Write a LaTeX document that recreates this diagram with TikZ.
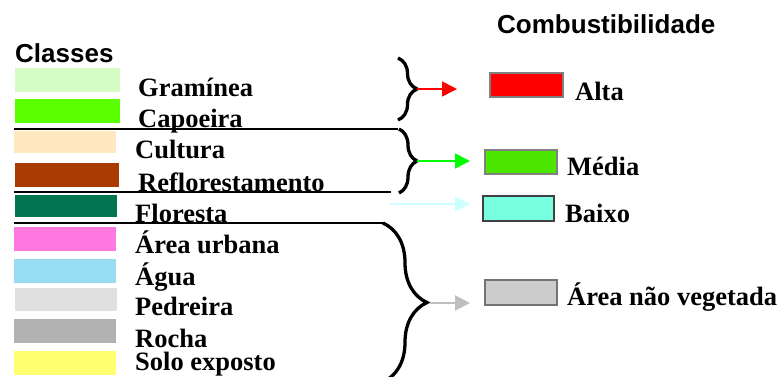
\documentclass[tikz,border=0pt]{standalone}
\usepackage{fontspec}
\setmainfont{Liberation Serif}
\newfontfamily\headfont{Liberation Sans}
\usetikzlibrary{arrows.meta,decorations.pathreplacing}
\definecolor{cGram}{HTML}{D4FCC4}
\definecolor{cCapo}{HTML}{5AFF00}
\definecolor{cCult}{HTML}{FFE8C0}
\definecolor{cRefl}{HTML}{A83C00}
\definecolor{cFlor}{HTML}{007550}
\definecolor{cUrb}{HTML}{FF78E0}
\definecolor{cAgua}{HTML}{98DCF2}
\definecolor{cPedr}{HTML}{E0E0E0}
\definecolor{cRoch}{HTML}{B2B2B2}
\definecolor{cSolo}{HTML}{FFFF70}
\definecolor{cMedia}{HTML}{4CE600}
\definecolor{cBaixo}{HTML}{78FFE0}
\definecolor{cNaoVeg}{HTML}{CCCCCC}
\definecolor{cCyan}{HTML}{CCFFFF}
\tikzset{
    swatch/.style={anchor=north west,inner sep=0,outer sep=0,minimum height=24pt},
    lbl/.style={anchor=base west,inner sep=0,font=\fontsize{26.5}{30}\selectfont\bfseries},
    ttl/.style={anchor=base west,inner sep=0,font=\headfont\fontsize{26}{30}\selectfont\bfseries},
    fuelbox/.style={anchor=north west,inner sep=0,line width=1.5pt,minimum width=73pt,minimum height=24pt},
    curly/.style={decorate,decoration={brace,amplitude=#1},line width=3.3pt},
    flow/.style={line width=1.6pt,-{Triangle[length=15pt,width=15pt]}}
}
\begin{document}
\begin{tikzpicture}[x=1pt,y=-1pt]
    \useasboundingbox (0,0) rectangle (781,376);
    \clip (0,0) rectangle (781,376);
    %% Titles
    \node[ttl] (classes) at (15,62) {Classes};
    \node[ttl] (combust) at (497,33) {Combustibilidade};
    %% Class swatches
    \node[swatch,fill=cGram,minimum width=105pt] (sGram) at (15,68) {};
    \node[swatch,fill=cCapo,minimum width=105pt] (sCapo) at (15,99) {};
    \node[swatch,fill=cCult,minimum width=102pt,minimum height=22pt] (sCult) at (14,131) {};
    \node[swatch,fill=cRefl,minimum width=104pt] (sRefl) at (15,163) {};
    \node[swatch,fill=cFlor,minimum width=102pt,minimum height=22pt] (sFlor) at (15,195) {};
    \node[swatch,fill=cUrb,minimum width=102pt] (sUrb) at (14,227) {};
    \node[swatch,fill=cAgua,minimum width=102pt] (sAgua) at (14,259) {};
    \node[swatch,fill=cPedr,minimum width=102pt,minimum height=23pt] (sPedr) at (15,288) {};
    \node[swatch,fill=cRoch,minimum width=102pt] (sRoch) at (14,319) {};
    \node[swatch,fill=cSolo,minimum width=102pt] (sSolo) at (14,351) {};
    %% Class names
    \node[lbl] (lGram) at (138,96) {Gramínea};
    \node[lbl] (lCapo) at (138,127) {Capoeira};
    \node[lbl] (lCult) at (135,158) {Cultura};
    \node[lbl] (lRefl) at (138,191) {Reflorestamento};
    \node[lbl] (lFlor) at (135,222) {Floresta};
    \node[lbl] (lUrb) at (135,253) {Área urbana};
    \node[lbl] (lAgua) at (135,285) {Água};
    \node[lbl] (lPedr) at (135,315) {Pedreira};
    \node[lbl] (lRoch) at (135,347) {Rocha};
    \node[lbl] (lSolo) at (135,370) {Solo exposto};
    %% Group dividers
    \draw[line width=1.5pt] (14,129) -- (398,129);
    \draw[line width=1.5pt] (14,192) -- (391,192);
    \draw[line width=1.5pt] (14,223) -- (384,223);
    %% Braces
    \draw[curly=19pt] (398,58) -- (398,120);
    \draw[curly=18pt] (399,129) -- (399,193);
    \draw[curly=44pt] (383,223) -- (383,382);
    \coordinate (tipAlta) at (417,89);
    \coordinate (tipMedia) at (417,161);
    \coordinate (tipBaixo) at (390,204);
    \coordinate (tipNao) at (430,303);
    %% Fuel classes
    \node[fuelbox,fill=red,draw=black!50] (alta) at (489,72) {};
    \node[fuelbox,fill=cMedia,draw=black!50,minimum width=72pt] (media) at (484,149) {};
    \node[fuelbox,fill=cBaixo,draw=black!75,minimum width=71pt,minimum height=25pt] (baixo) at (482,195) {};
    \node[fuelbox,fill=cNaoVeg,draw=black!55,minimum width=72pt,minimum height=25pt] (naoveg) at (484,279) {};
    \node[lbl] (lAlta) at (575,100) {Alta};
    \node[lbl] (lMedia) at (567,175) {Média};
    \node[lbl] (lBaixo) at (565,222) {Baixo};
    \node[lbl] (lNao) at (567,305) {Área não vegetada};
    %% Arrows
    \draw[flow,red] (tipAlta) -- ([xshift=-32pt]tipAlta -| alta.west);
    \draw[flow,green] (tipMedia) -- ([xshift=-14pt]tipMedia -| media.west);
    \draw[flow,cCyan,line width=2pt] (tipBaixo) -- ([xshift=-12pt]tipBaixo -| baixo.west);
    \draw[flow,black!25,line width=2pt] (tipNao) -- ([xshift=-14pt]tipNao -| naoveg.west);
\end{tikzpicture}
\end{document}
